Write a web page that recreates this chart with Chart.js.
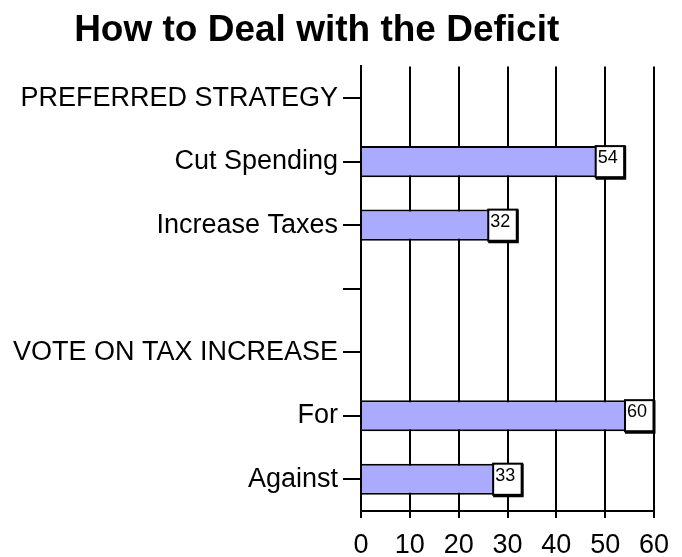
<!DOCTYPE html>
<html>
<head>
<meta charset="utf-8">
<script src="https://cdn.jsdelivr.net/npm/chart.js@4"></script>
<style>
  html, body { margin: 0; padding: 0; background: #fff; }
  #wrap { width: 682px; height: 557px; }
</style>
</head>
<body>
<div id="wrap"><canvas id="chartDeficit" width="682" height="557"></canvas></div>
<script>
const labels = ['PREFERRED STRATEGY', 'Cut Spending', 'Increase Taxes', '', 'VOTE ON TAX INCREASE', 'For', 'Against'];
const values = [null, 54, 32, null, null, 60, 33];
const xTicks = [0, 10, 20, 30, 40, 50, 60];

const FONT = '"Liberation Sans", Arial, sans-serif';
const ctx = document.getElementById('chartDeficit');

// white value box sitting at the end of each bar, heavier edge right/bottom
const valueBoxes = {
    id: 'valueBoxes',
    afterDatasetsDraw(chart) {
        const c = chart.ctx;
        const meta = chart.getDatasetMeta(0);
        meta.data.forEach(function (bar, i) {
            const v = values[i];
            if (v == null) return;
            const h = bar.height;
            const w = 29;
            const x = bar.x - w;
            const y = bar.y - h / 2;
            c.save();
            c.fillStyle = '#ffffff';
            c.fillRect(x, y, w, h);
            c.strokeStyle = '#000000';
            c.lineWidth = 2;
            c.strokeRect(x, y, w, h);
            c.lineWidth = 3;
            c.beginPath();
            c.moveTo(x + w, y);
            c.lineTo(x + w, y + h + 1);
            c.lineTo(x, y + h + 1);
            c.stroke();
            c.fillStyle = '#000000';
            c.font = '18px ' + FONT;
            c.textAlign = 'left';
            c.textBaseline = 'top';
            c.fillText(String(v), x + 2, y + 3);
            c.restore();
        });
    }
};

new Chart(ctx, {
    type: 'bar',
    data: {
        labels: labels,
        datasets: [{
            data: values,
            backgroundColor: '#aaaaff',
            borderColor: '#000000',
            borderWidth: 2,
            borderSkipped: 'left',
            barPercentage: 0.98,
            categoryPercentage: 0.5
        }]
    },
    options: {
        indexAxis: 'y',
        responsive: false,
        animation: false,
        layout: { padding: { left: 0, right: 28, top: 0, bottom: 0 } },
        plugins: {
            legend: { display: false },
            tooltip: { enabled: false },
            title: {
                display: true,
                text: 'How to Deal with the Deficit  ',
                color: '#000',
                font: { family: FONT, size: 37, weight: 'bold' },
                padding: { top: 9, bottom: 13 }
            }
        },
        scales: {
            x: {
                min: 0,
                max: 60,
                afterBuildTicks(axis) {
                    axis.ticks = xTicks.map(v => ({ value: v }));
                },
                afterFit(axis) { axis.height = 46; },
                grid: {
                    color: '#000',
                    lineWidth: 2,
                    tickLength: 7,
                    drawTicks: true
                },
                border: { display: true, color: '#000', width: 2 },
                ticks: {
                    color: '#000',
                    padding: 11,
                    maxRotation: 0,
                    font: { family: FONT, size: 27 }
                }
            },
            y: {
                afterFit(axis) { axis.width = 361; },
                grid: {
                    offset: false,
                    drawOnChartArea: false,
                    color: '#000',
                    lineWidth: 2,
                    tickLength: 18
                },
                border: { display: true, color: '#000', width: 2 },
                ticks: {
                    color: '#000',
                    padding: 5,
                    autoSkip: false,
                    font: { family: FONT, size: 27 }
                }
            }
        }
    },
    plugins: [valueBoxes]
});
</script>
</body>
</html>
